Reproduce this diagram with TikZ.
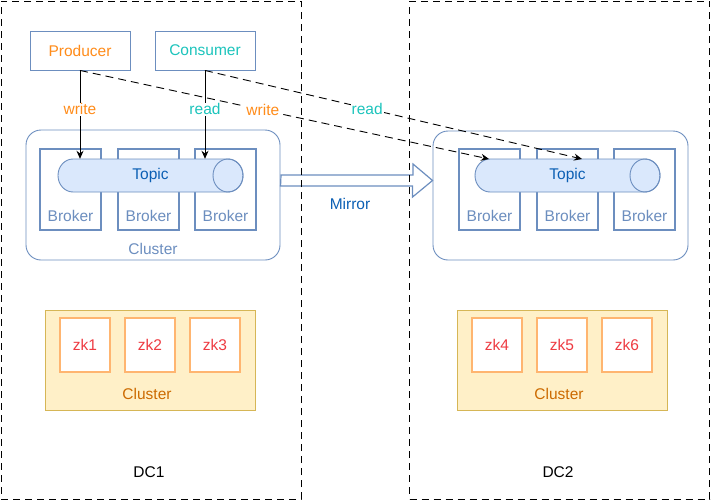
\documentclass[tikz,border=0pt]{standalone}
\usepackage{fontspec}
\setmainfont{Liberation Sans}
\usetikzlibrary{arrows.meta}

\definecolor{bordo}{HTML}{6C8EBF}
\definecolor{azzurro}{HTML}{DAE8FC}
\definecolor{arancio}{HTML}{FF8C1A}
\definecolor{ciano}{HTML}{1CC4BC}
\definecolor{blu}{HTML}{0B5FB4}
\definecolor{giallo}{HTML}{FFF0C8}
\definecolor{ocra}{HTML}{D6B656}
\definecolor{bruno}{HTML}{CC6A00}
\definecolor{zkbordo}{HTML}{FFB570}
\definecolor{rosso}{HTML}{EE3B42}

\begin{document}
\begin{tikzpicture}[x=1pt,y=-1pt,every node/.style={font=\fontsize{15.5}{18}\selectfont}]
\tikzstyle{freccia} = [-{Stealth[length=8pt,width=7pt]}, line width=0.9pt]
\tikzstyle{tratteggio} = [-{Stealth[length=8pt,width=7pt]}, line width=0.9pt, dash pattern=on 8pt off 5pt]
\tikzstyle{client} = [draw=bordo, line width=0.9pt, fill=white, minimum width=100, minimum height=39, inner sep=0]
\tikzstyle{cluster} = [draw=bordo, line width=0.9pt, rounded corners=15, inner sep=0]
\tikzstyle{broker} = [draw=bordo, line width=1.8pt, fill=white, minimum width=61, minimum height=81, inner sep=0]
\tikzstyle{zkcluster} = [draw=ocra, line width=0.9pt, fill=giallo, minimum width=210, minimum height=100, inner sep=0]
\tikzstyle{zk} = [draw=zkbordo, line width=1.8pt, fill=white, minimum width=50, minimum height=54, inner sep=0, text=rosso]
\tikzstyle{dc} = [draw, line width=0.9pt, dash pattern=on 7pt off 5pt, minimum width=300, minimum height=498, inner sep=0]
\useasboundingbox (0,0) rectangle (711,501);

% DC1
\node[client, text=arancio] (prod) at (80,50.5) {Producer};
\node[client, text=ciano] (cons) at (205,50.5) {Consumer};
\node[cluster, minimum width=254, minimum height=130] (c1) at (153,195) {};
\node[text=bordo] at (153,249) {Cluster};
\node[broker] (b1) at (70.5,189.5) {};
\node[broker] (b2) at (148.5,189.5) {};
\node[broker] (b3) at (225.5,189.5) {};
\node[text=bordo] at (70.5,216) {Broker};
\node[text=bordo] at (148.5,216) {Broker};
\node[text=bordo] at (225.5,216) {Broker};
\draw[draw=bordo, fill=azzurro, line width=0.9pt] (73,159) -- (228,159) arc (-90:90:15 and 16.5) -- (73,192) arc (90:270:15 and 16.5) -- cycle;
\draw[draw=bordo, line width=0.9pt] (228,175.5) ellipse (15 and 16.5);
\node[minimum width=185, minimum height=33, inner sep=0, text=blu] (topic1) at (150.5,175.5) {Topic};

% DC2
\node[cluster, minimum width=255, minimum height=129] (c2) at (560.5,195.5) {};
\node[broker] (b4) at (489.5,189.5) {};
\node[broker] (b5) at (567.5,189.5) {};
\node[broker] (b6) at (644.5,189.5) {};
\node[text=bordo] at (489.5,216) {Broker};
\node[text=bordo] at (567.5,216) {Broker};
\node[text=bordo] at (644.5,216) {Broker};
\draw[draw=bordo, fill=azzurro, line width=0.9pt] (490,159) -- (645,159) arc (-90:90:15 and 16.5) -- (490,192) arc (90:270:15 and 16.5) -- cycle;
\draw[draw=bordo, line width=0.9pt] (645,175.5) ellipse (15 and 16.5);
\node[minimum width=185, minimum height=33, inner sep=0, text=blu] (topic2) at (567.5,175.5) {Topic};
\coordinate (w2) at (489,159);
\coordinate (r2) at (582,159);

% write / read
\draw[freccia] (prod) -- (prod.south |- topic1.north) node[pos=.44, fill=white, inner sep=1, text=arancio] {write};
\draw[freccia] (cons) -- (cons.south |- topic1.north) node[pos=.44, fill=white, inner sep=1, text=ciano] {read};
\draw[tratteggio] (prod.south) -- (w2) node[pos=.447, fill=white, inner sep=1, text=arancio] {write};
\draw[tratteggio] (cons.south) -- (r2) node[pos=.43, fill=white, inner sep=1, text=ciano] {read};

% mirror
\coordinate (m1) at (281,180.5);
\draw[draw=bordo, fill=white, line width=1.2pt] (m1) ++(0,-5.5) -- ++(132,0) -- ++(0,-11) -- (c2.west |- m1) -- ++(-20,16.5) -- ++(0,-11) -- ++(-132,0) -- cycle;
\node[text=blu] at (350,204) {Mirror};

% zookeeper
\node[zkcluster] (zc1) at (150,360) {};
\node[zk] (zk1) at (85,345) {zk1};
\node[zk] (zk2) at (150,345) {zk2};
\node[zk] (zk3) at (215,345) {zk3};
\node[text=bruno] at (147,394) {Cluster};
\node[zkcluster] (zc2) at (562,360) {};
\node[zk] (zk4) at (497,345) {zk4};
\node[zk] (zk5) at (562,345) {zk5};
\node[zk] (zk6) at (627,345) {zk6};
\node[text=bruno] at (559,394) {Cluster};

% data center
\node[dc] (dc1) at (151,250) {};
\node[dc] (dc2) at (559.5,250) {};
\node at (149,472) {DC1};
\node at (558,472) {DC2};
\end{tikzpicture}
\end{document}
